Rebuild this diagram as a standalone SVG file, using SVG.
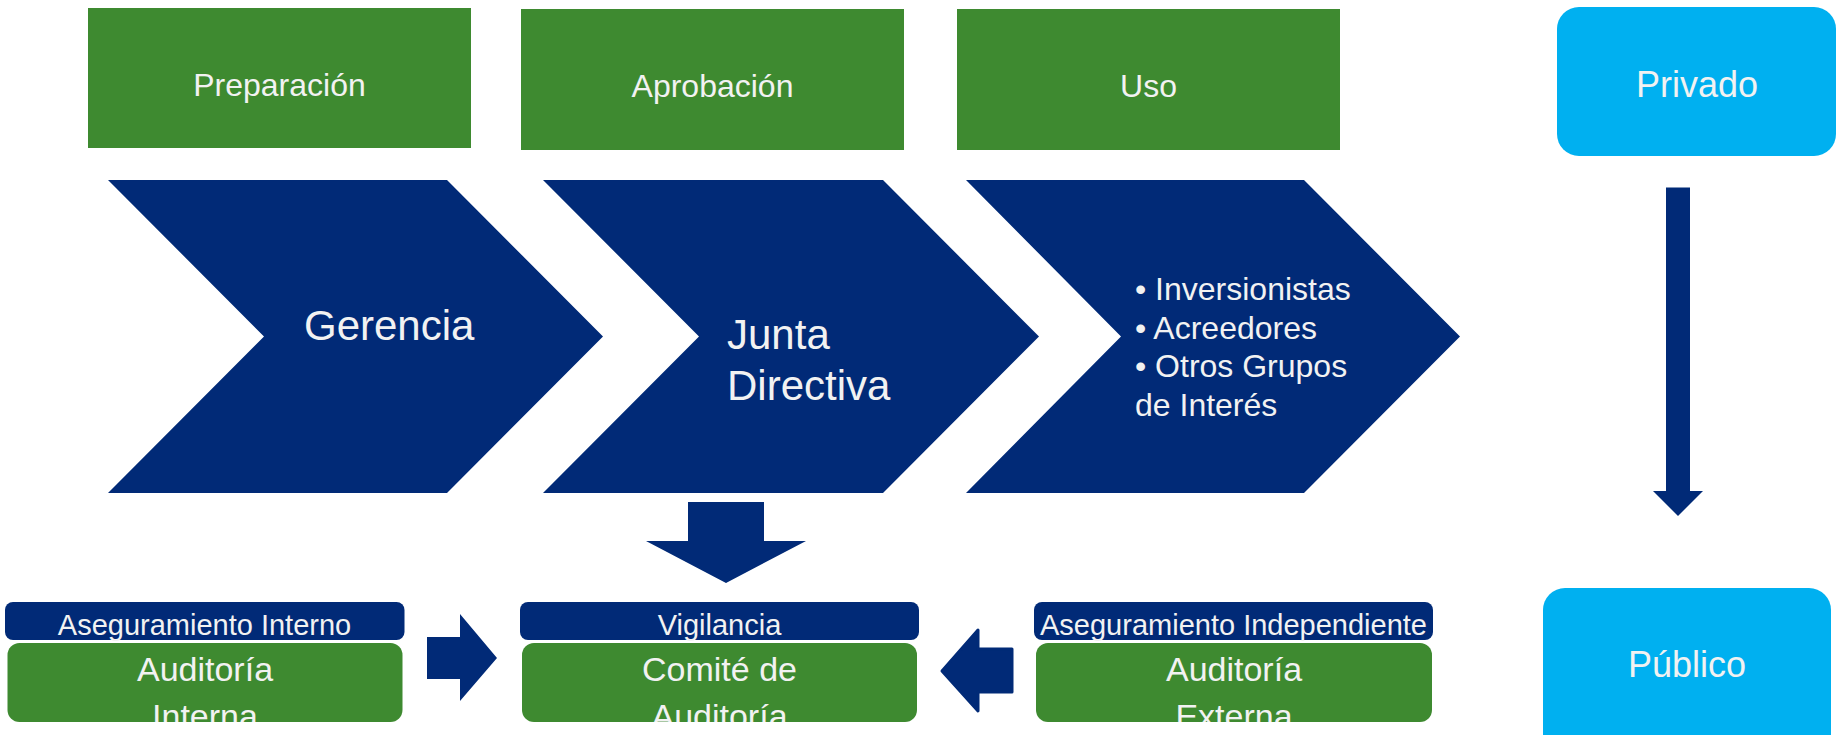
<svg xmlns="http://www.w3.org/2000/svg" width="1845" height="735" viewBox="0 0 1845 735">
<style>
.green{fill:#3E8A30}
.navy{fill:#012A77}
.blue{fill:#00B0F0}
text{font-family:"Liberation Sans",Arial,sans-serif;fill:#F2F2F2}
.c{text-anchor:middle}
.t32{font-size:32px}
.t42{font-size:42px}
.t29{font-size:29px}
.t34{font-size:34px}
.t36{font-size:36px}
</style>
<defs>
<clipPath id="clipL"><rect x="7.5" y="643" width="395" height="79" rx="12"/></clipPath>
<clipPath id="clipM"><rect x="522" y="643" width="395" height="79" rx="12"/></clipPath>
<clipPath id="clipR"><rect x="1036" y="643" width="396" height="79" rx="12"/></clipPath>
</defs>
<rect width="1845" height="735" fill="#FFFFFF"/>

<g id="preparacion">
<rect class="green" x="88" y="8" width="383" height="140"/>
<text class="t32 c" x="279.5" y="96">Preparación</text>
</g>
<g id="aprobacion">
<rect class="green" x="521" y="9" width="383" height="141"/>
<text class="t32 c" x="712.5" y="97">Aprobación</text>
</g>
<g id="uso">
<rect class="green" x="957" y="9" width="383" height="141"/>
<text class="t32 c" x="1148.5" y="97">Uso</text>
</g>

<g id="gerencia">
<polygon class="navy" points="108,180 447,180 603,336.5 447,493 108,493 264,336.5"/>
<text class="t42" x="304" y="340">Gerencia</text>
</g>
<g id="junta">
<polygon class="navy" points="543,180 883,180 1039,336.5 883,493 543,493 699,336.5"/>
<text class="t42" x="727" y="349">Junta</text>
<text class="t42" x="727" y="400">Directiva</text>
</g>
<g id="usuarios">
<polygon class="navy" points="966,180 1304,180 1460,336.5 1304,493 966,493 1121,336.5"/>
<text class="t32" x="1135" y="300">• Inversionistas</text>
<text class="t32" x="1135" y="338.5">• Acreedores</text>
<text class="t32" x="1135" y="377">• Otros Grupos</text>
<text class="t32" x="1135" y="416">de Interés</text>
</g>

<g id="privado">
<rect class="blue" x="1557" y="7" width="279" height="149" rx="22"/>
<text class="t36 c" x="1697" y="97">Privado</text>
</g>
<g id="publico">
<rect class="blue" x="1543" y="588" width="288" height="170" rx="22"/>
<text class="t36 c" x="1687" y="677">Público</text>
</g>

<g id="auditoria-interna">
<rect class="navy" x="5" y="602" width="399.5" height="38" rx="8"/>
<text class="t29 c" x="204.5" y="635">Aseguramiento Interno</text>
<rect class="green" x="7.5" y="643" width="395" height="79" rx="12"/>
<g clip-path="url(#clipL)">
<text class="t34 c" x="205" y="681">Auditoría</text>
<text class="t34 c" x="205" y="728">Interna</text>
</g>
</g>
<g id="comite-auditoria">
<rect class="navy" x="520" y="602" width="399" height="38" rx="8"/>
<text class="t29 c" x="719.5" y="635">Vigilancia</text>
<rect class="green" x="522" y="643" width="395" height="79" rx="12"/>
<g clip-path="url(#clipM)">
<text class="t34 c" x="719.5" y="681">Comité de</text>
<text class="t34 c" x="719.5" y="728">Auditoría</text>
</g>
</g>
<g id="auditoria-externa">
<rect class="navy" x="1034" y="602" width="399" height="38" rx="8"/>
<text class="t29 c" x="1233.5" y="635">Aseguramiento Independiente</text>
<rect class="green" x="1036" y="643" width="396" height="79" rx="12"/>
<g clip-path="url(#clipR)">
<text class="t34 c" x="1234" y="681">Auditoría</text>
<text class="t34 c" x="1234" y="728">Externa</text>
</g>
</g>

<g id="connectors">
<polygon class="navy" points="688,502 764,502 764,541 806,541 726,583 646,541 688,541"/>
<polygon class="navy" points="427,637 460,637 460,614 497,658 460,701 460,679 427,679"/>
<polygon class="navy" stroke="#012A77" stroke-width="3" stroke-linejoin="round" points="1012,649 978,649 978,630 942,671 978,711 978,692 1012,692"/>
<polygon class="navy" points="1666,187.5 1690,187.5 1690,491 1703,491 1678,516 1653,491 1666,491"/>
</g>
</svg>
